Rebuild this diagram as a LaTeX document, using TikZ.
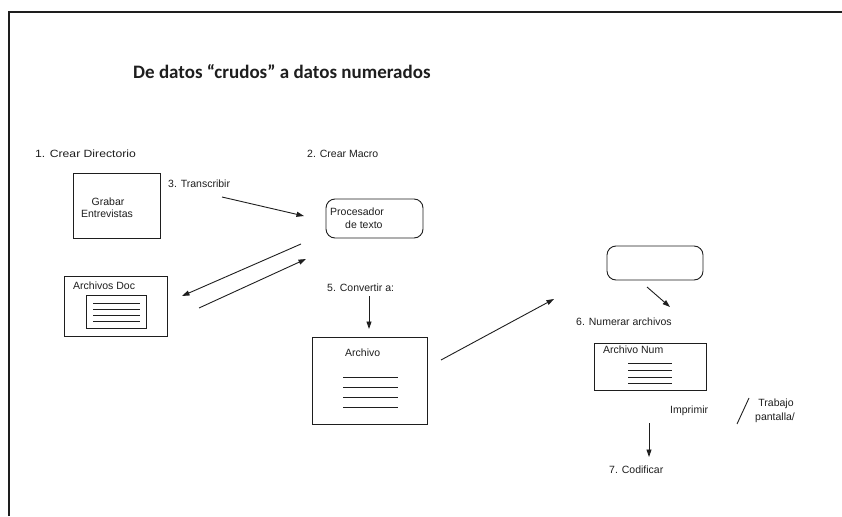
\documentclass[tikz,border=0pt]{standalone}
\usepackage{fontspec}
\setmainfont{Liberation Sans}
\newfontfamily\titlefont{Carlito}
\usetikzlibrary{arrows.meta}

\definecolor{ink}{HTML}{1E1E1E}

\tikzset{
  frame/.style={draw=ink, line width=1.2pt},
  box/.style={draw=ink, line width=0.9pt, inner sep=0pt, fill=white},
  roundbox/.style={box, rounded corners=9pt},
  txt/.style={font=\fontsize{10.5}{12}\selectfont, text=ink, inner sep=0pt},
  titletxt/.style={font=\titlefont\bfseries\fontsize{19}{22}\selectfont, text=ink, inner sep=0pt},
  rule/.style={draw=ink, line width=0.9pt},
  flow/.style={draw=ink, line width=0.9pt, -{Triangle[length=7.5pt,width=5pt]}},
  plain/.style={draw=ink, line width=0.9pt}
}

\begin{document}
\begin{tikzpicture}[x=1pt,y=-1pt]
\useasboundingbox (0,0) rectangle (842,516);

% open frame: left and top edges only
\coordinate (fbl) at (9,516);
\coordinate (ftl) at (9,12);
\coordinate (ftr) at (842,12);
\draw[frame] (fbl) -- (ftl) -- (ftr);

% title
\node[titletxt, anchor=base west] (title) at (133,79) {De datos “crudos” a datos numerados};

% step labels
\node[txt, anchor=base west] (s1) at (35,157) {\scalebox{1.16}[1]{1. Crear Directorio}};
\node[txt, anchor=base west] (s2) at (307,157) {2. Crear Macro};
\node[txt, anchor=base west] (s3) at (168,187) {3. Transcribir};
\node[txt, anchor=base west] (s5) at (327,291) {5. Convertir a:};
\node[txt, anchor=base west] (s6) at (576,325) {6. Numerar archivos};
\node[txt, anchor=base west] (s7) at (609,473) {7. Codificar};
\node[txt, anchor=base west] (imp) at (670,413) {Imprimir};
\node[txt, anchor=base] (trab) at (776,406) {Trabajo};
\node[txt, anchor=base] (pant) at (775,420) {pantalla/};

% Grabar Entrevistas
\node[box, minimum width=87pt, minimum height=65pt] (grabar) at (116.5,205.5) {};
\node[txt, anchor=base] (grabarA) at (108,205) {Grabar};
\node[txt, anchor=base] (grabarB) at (107,217) {Entrevistas};

% Procesador de texto
\node[roundbox, minimum width=97pt, minimum height=39pt] (proc) at (374.5,218.5) {};
\node[txt, anchor=base west] (procA) at (330,215) {Procesador};
\node[txt, anchor=base west] (procB) at (345,228) {de texto};

% Archivos Doc
\node[box, minimum width=103pt, minimum height=60pt] (doc) at (116,306) {};
\node[txt, anchor=base west] (docT) at (73,289) {Archivos Doc};
\node[box, minimum width=60pt, minimum height=33pt] (docIn) at (116.5,312) {};
\foreach \yy [count=\i] in {303,309,315,321}
  \draw[rule] ([xshift=7pt]docIn.west |- 0,\yy) coordinate (dl\i) -- ([xshift=-7pt]docIn.east |- 0,\yy);

% Archivo
\node[box, minimum width=115pt, minimum height=87pt] (arch) at (369.5,380.5) {};
\node[txt, anchor=base west] (archT) at (345,356) {Archivo};
\foreach \yy [count=\i] in {377,387,397,407}
  \draw[rule] (343,\yy) coordinate (al\i) -- (398,\yy);

% empty rounded box
\node[roundbox, minimum width=96pt, minimum height=34pt] (empty) at (655,263) {};

% Archivo Num
\node[box, minimum width=112pt, minimum height=47pt] (num) at (650,366.5) {};
\node[txt, anchor=base west] (numT) at (603,353) {Archivo Num};
\foreach \yy [count=\i] in {363,370,377,383}
  \draw[rule] (628,\yy) coordinate (nl\i) -- (672,\yy);

% arrow end points
\coordinate (a1s) at (222,197);
\coordinate (a1e) at (304,216);
\coordinate (a2s) at (301,244);
\coordinate (a2e) at (182,296);
\coordinate (a3s) at (199,308);
\coordinate (a3e) at (306,259);
\coordinate (a4s) at (369,296);
\coordinate (a4e) at (369,329);
\coordinate (a5s) at (441,360);
\coordinate (a5e) at (554,299);
\coordinate (a6s) at (647,287);
\coordinate (a6e) at (670,307);
\coordinate (a7s) at (649,423);
\coordinate (a7e) at (649,457);
\coordinate (sl1) at (749,398);
\coordinate (sl2) at (737,424);

\draw[flow] (a1s) -- (a1e);
\draw[flow] (a2s) -- (a2e);
\draw[flow] (a3s) -- (a3e);
\draw[flow] (a4s) -- (a4e);
\draw[flow] (a5s) -- (a5e);
\draw[flow] (a6s) -- (a6e);
\draw[flow] (a7s) -- (a7e);
\draw[plain] (sl1) -- (sl2);
\end{tikzpicture}
\end{document}
